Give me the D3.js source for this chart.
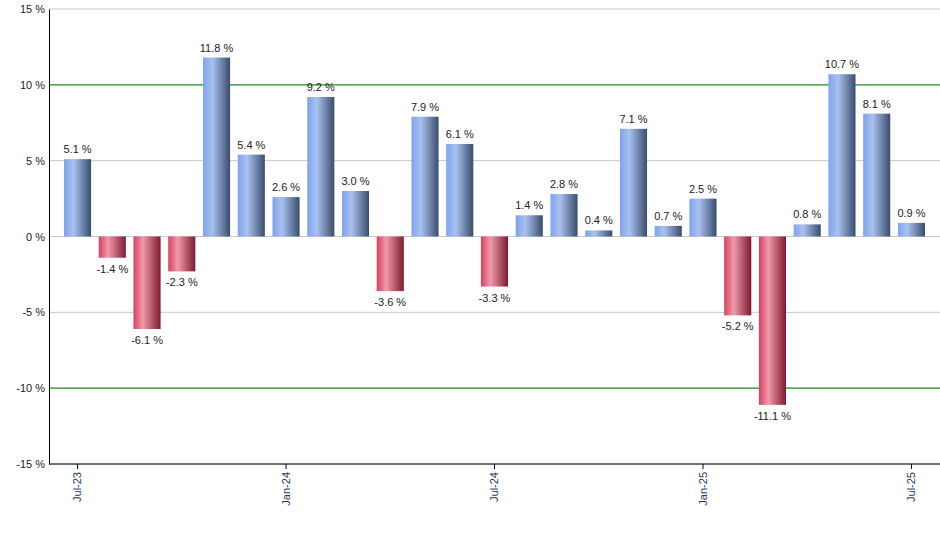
<!DOCTYPE html><html><head><meta charset="utf-8"><script src="https://cdn.jsdelivr.net/npm/d3@7"></script>
<style>body{margin:0;background:#fff}text{font-family:"Liberation Sans",Arial,sans-serif}</style></head><body><svg id="c" width="940" height="550"></svg><script>
const months=["Jul-23","Aug-23","Sep-23","Oct-23","Nov-23","Dec-23","Jan-24","Feb-24","Mar-24","Apr-24","May-24","Jun-24","Jul-24","Aug-24","Sep-24","Oct-24","Nov-24","Dec-24","Jan-25","Feb-25","Mar-25","Apr-25","May-25","Jun-25","Jul-25"];
const values=[5.1,-1.4,-6.1,-2.3,11.8,5.4,2.6,9.2,3.0,-3.6,7.9,6.1,-3.3,1.4,2.8,0.4,7.1,0.7,2.5,-5.2,-11.1,0.8,10.7,8.1,0.9];
const tickLabels=["Jul-23","Jan-24","Jul-24","Jan-25","Jul-25"];
const yTicks=[-15,-10,-5,0,5,10,15];
const svg=d3.select("#c");
const L=49,R=940,T=9,B=464;
const x=d3.scaleBand().domain(months).range([64,925]).paddingInner(0.22).paddingOuter(0);
const y=d3.scaleLinear().domain([-15,15]).range([B,T]);
const defs=svg.append("defs");
function grad(id,stops){const g=defs.append("linearGradient").attr("id",id);stops.forEach(([o,c])=>g.append("stop").attr("offset",o).attr("stop-color",c));}
grad("gb",[["0","#7ea4ef"],["0.35","#a9c1ee"],["1","#3a4d6e"]]);
grad("gr",[["0","#d8405e"],["0.35","#f09aac"],["1","#7e1a30"]]);
svg.append("g").selectAll("line").data(yTicks).join("line").attr("x1",L).attr("x2",R).attr("y1",d=>y(d)).attr("y2",d=>y(d))
 .attr("stroke",d=>Math.abs(d)==10?"#1a8a1a":"#c8c8c8").attr("stroke-width",d=>Math.abs(d)==10?1.3:1);
svg.append("g").selectAll("rect").data(values).join("rect").attr("x",(d,i)=>x(months[i])).attr("width",x.bandwidth())
 .attr("y",d=>y(Math.max(0,d))).attr("height",d=>Math.abs(y(d)-y(0))).attr("fill",d=>d>=0?"url(#gb)":"url(#gr)");
svg.append("g").selectAll("text").data(values).join("text").attr("x",(d,i)=>x(months[i])+x.bandwidth()/2)
 .attr("y",d=>d>=0?y(d)-6:y(d)+15).attr("text-anchor","middle").attr("font-size",11).attr("fill","#222").text(d=>d.toFixed(1)+" %");
const ya=svg.append("g").attr("transform",`translate(${L},0)`).call(d3.axisLeft(y).tickValues(yTicks).tickSize(0).tickPadding(4).tickFormat(d=>d+" %"));
ya.select(".domain").attr("stroke","#000");ya.selectAll("text").attr("font-size",11).attr("fill","#222");
const xa=svg.append("g").attr("transform",`translate(0,${B})`).call(d3.axisBottom(x).tickValues(tickLabels).tickSize(5).tickSizeOuter(0));
xa.select(".domain").attr("d",`M${L},0H${R}`).attr("stroke","#000");
xa.selectAll("text").attr("font-size",11).attr("fill","#1a3a6a").attr("transform","rotate(-90)").attr("text-anchor","end").attr("x",-8).attr("y",0).attr("dy","0.35em");
</script></body></html>
